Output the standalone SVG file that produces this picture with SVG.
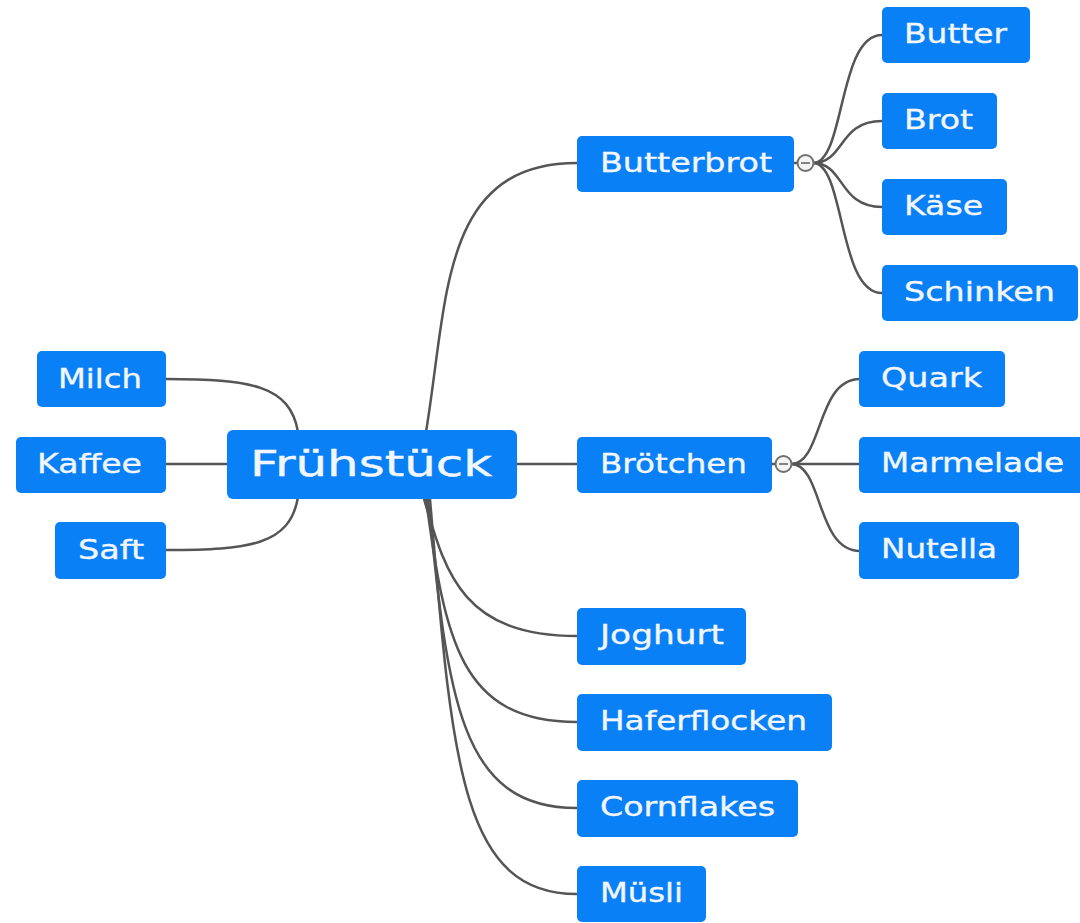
<svg xmlns="http://www.w3.org/2000/svg" width="1080" height="923" viewBox="0 0 1080 923">
<style>
.box{fill:#0a80f7;}
.t{font-family:"DejaVu Sans","Verdana",sans-serif;font-size:26px;fill:#f2f6ff;stroke:#f2f6ff;stroke-width:0.35;}
.root{font-size:35px;stroke-width:0.4;}
.c{fill:none;stroke:#555;stroke-width:2.5;}
.tog{fill:#f4f4f4;stroke:#707070;stroke-width:2;}
.tm{stroke:#666;stroke-width:1.6;}
</style>
<rect width="1080" height="923" fill="#fff"/>
<g id="connectors">
<path class="c" d="M426,432 C448,300 440,163 577,163"/>
<path class="c" d="M517,464 H577"/>
<path class="c" d="M424,499 C445,570 460,636 577,636"/>
<path class="c" d="M426,499 C445,640 460,722 577,722"/>
<path class="c" d="M428,499 C448,700 460,808 577,808"/>
<path class="c" d="M430,499 C452,760 460,894 577,894"/>
<path class="c" d="M298,432 C290,385 250,379 166,379"/>
<path class="c" d="M298,497 C290,545 250,550 166,550"/>
<path class="c" d="M166,464 H227"/>
<path class="c" d="M794,163 H798"/>
<path class="c" d="M813,163 C845,163 838,35 882,35"/>
<path class="c" d="M813,163 C845,163 838,121 882,121"/>
<path class="c" d="M813,163 C845,163 838,207 882,207"/>
<path class="c" d="M813,163 C845,163 838,293 882,293"/>
<path class="c" d="M772,464 H776"/>
<path class="c" d="M791,464 C823,464 816,379 860,379"/>
<path class="c" d="M791,464 H860"/>
<path class="c" d="M791,464 C823,464 816,551 860,551"/>
</g>
<g id="toggle-butterbrot"><circle class="tog" cx="805.5" cy="163" r="8"/><line class="tm" x1="801" y1="163" x2="810" y2="163"/></g>
<g id="toggle-broetchen"><circle class="tog" cx="783.5" cy="464" r="8"/><line class="tm" x1="779" y1="464" x2="788" y2="464"/></g>
<g id="n-fruehstueck"><rect class="box" x="227" y="430" width="290" height="69" rx="6"/><text class="t root" x="250" y="476" textLength="242" lengthAdjust="spacingAndGlyphs">Frühstück</text></g>
<g id="n-milch"><rect class="box" x="37" y="351" width="129" height="56" rx="5"/><text class="t" x="58" y="388" textLength="84" lengthAdjust="spacingAndGlyphs">Milch</text></g>
<g id="n-kaffee"><rect class="box" x="16" y="437" width="150" height="56" rx="5"/><text class="t" x="37" y="473" textLength="105" lengthAdjust="spacingAndGlyphs">Kaffee</text></g>
<g id="n-saft"><rect class="box" x="55" y="522" width="111" height="57" rx="5"/><text class="t" x="78" y="559" textLength="66" lengthAdjust="spacingAndGlyphs">Saft</text></g>
<g id="n-butterbrot"><rect class="box" x="577" y="136" width="217" height="56" rx="5"/><text class="t" x="600" y="172" textLength="172" lengthAdjust="spacingAndGlyphs">Butterbrot</text></g>
<g id="n-butter"><rect class="box" x="882" y="7" width="148" height="56" rx="5"/><text class="t" x="904" y="43" textLength="103" lengthAdjust="spacingAndGlyphs">Butter</text></g>
<g id="n-brot"><rect class="box" x="882" y="93" width="115" height="56" rx="5"/><text class="t" x="904" y="129" textLength="69" lengthAdjust="spacingAndGlyphs">Brot</text></g>
<g id="n-kaese"><rect class="box" x="882" y="179" width="125" height="56" rx="5"/><text class="t" x="904" y="215" textLength="79" lengthAdjust="spacingAndGlyphs">Käse</text></g>
<g id="n-schinken"><rect class="box" x="882" y="265" width="196" height="56" rx="5"/><text class="t" x="904" y="301" textLength="151" lengthAdjust="spacingAndGlyphs">Schinken</text></g>
<g id="n-broetchen"><rect class="box" x="577" y="437" width="195" height="56" rx="5"/><text class="t" x="600" y="473" textLength="147" lengthAdjust="spacingAndGlyphs">Brötchen</text></g>
<g id="n-quark"><rect class="box" x="859" y="351" width="146" height="56" rx="5"/><text class="t" x="881" y="387" textLength="101" lengthAdjust="spacingAndGlyphs">Quark</text></g>
<g id="n-marmelade"><rect class="box" x="859" y="437" width="225" height="56" rx="5"/><text class="t" x="881" y="472" textLength="183" lengthAdjust="spacingAndGlyphs">Marmelade</text></g>
<g id="n-nutella"><rect class="box" x="859" y="522" width="160" height="57" rx="5"/><text class="t" x="881" y="558" textLength="116" lengthAdjust="spacingAndGlyphs">Nutella</text></g>
<g id="n-joghurt"><rect class="box" x="577" y="608" width="169" height="57" rx="5"/><text class="t" x="600" y="644" textLength="124" lengthAdjust="spacingAndGlyphs">Joghurt</text></g>
<g id="n-haferflocken"><rect class="box" x="577" y="694" width="255" height="57" rx="5"/><text class="t" x="600" y="730" textLength="207" lengthAdjust="spacingAndGlyphs">Haferflocken</text></g>
<g id="n-cornflakes"><rect class="box" x="577" y="780" width="221" height="57" rx="5"/><text class="t" x="600" y="816" textLength="175" lengthAdjust="spacingAndGlyphs">Cornflakes</text></g>
<g id="n-muesli"><rect class="box" x="577" y="866" width="129" height="56" rx="5"/><text class="t" x="600" y="902" textLength="83" lengthAdjust="spacingAndGlyphs">Müsli</text></g>
</svg>
